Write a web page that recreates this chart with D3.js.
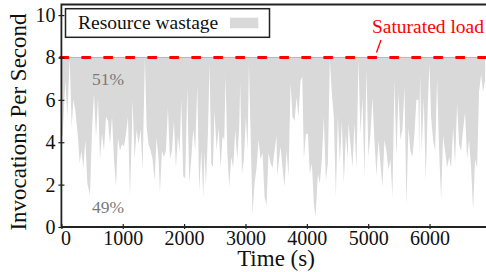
<!DOCTYPE html>
<html>
<head>
<meta charset="utf-8">
<script src="https://cdn.jsdelivr.net/npm/d3@7/dist/d3.min.js"></script>
<style>
  html, body { margin: 0; padding: 0; background: #fff; }
  svg { display: block; font-family: "Liberation Serif", "Times New Roman", serif; }
</style>
</head>
<body>
<svg id="chart" width="486" height="272"></svg>
<script>
// ---- data ----
const times = [
  0,21,64,97,135,168,195,227,271,298,325,358,390,423,466,499,531,564,597,629,662,694,727,760,792,825,857,890,922,955,988,1020,1053,1085,1118,1150,
  1160,1193,1226,1258,1291,1323,1361,1389,1421,1454,1486,1519,1551,1584,1606,1638,1671,1703,1736,1769,1801,1834,1866,1899,1926,1953,1986,2018,2051,2084,2116,2149,2181,2214,2246,2279,2312,
  2333,2355,2388,2415,2442,2469,2496,2529,2562,2594,2627,2654,2676,2703,2735,2768,2800,2833,2866,2898,2914,2942,2974,3007,3034,3056,3083,3115,3148,3181,3213,3246,3278,3311,3343,3376,3409,3441,3474,3506,
  3517,3539,3572,3604,3637,3669,3702,3735,3767,3800,3832,3865,3897,3925,3952,3984,4017,4049,4082,4115,4142,4180,4212,4245,4277,4310,4343,4375,4408,4440,4473,4506,4538,4571,4603,4636,4668,
  4678,4711,4744,4776,4809,4841,4874,4907,4939,4972,5004,5037,5069,5102,5135,5167,5200,5232,5265,5297,5330,5363,5395,5428,5460,5493,5525,5558,5591,5623,5656,5688,5721,5754,5786,5819,
  5830,5846,5873,5906,5938,5971,5998,6025,6058,6091,6123,6156,6188,6221,6253,6286,6319,6351,6384,6416,6449,6481,6514,6547,6579,6612,6644,6677,6710,6742,6775,6807,6840,6872,6905
];
const invocations = [
  4.3,4.3,6.9,5.2,8.0,4.7,6.0,5.5,4.2,3.0,3.6,2.8,4.1,2.05,1.5,4.6,6.3,4.2,6.1,3.2,4.4,3.6,5.2,5.0,3.9,5.2,3.2,1.9,4.2,3.6,3.9,3.8,4.4,5.2,1.4,4.7,
  6.0,3.2,4.6,3.9,4.6,2.7,8.0,4.7,3.9,3.6,3.2,2.2,4.2,3.2,1.6,3.6,3.3,3.6,5.6,3.2,3.6,5.0,2.8,4.3,3.5,6.0,2.4,2.3,6.6,2.05,3.2,4.6,3.6,6.7,1.7,3.6,1.4,
  3.6,1.9,4.4,7.7,3.0,2.8,5.5,3.6,4.7,2.8,4.3,4.1,7.1,3.6,1.9,3.3,2.8,4.6,3.2,4.7,6.8,2.5,3.2,5.2,3.6,7.7,4.4,0.6,2.05,2.8,4.1,3.2,3.5,1.4,1.0,3.5,3.0,2.8,3.6,4.3,
  2.4,3.0,3.8,2.8,1.9,3.6,2.4,6.8,5.2,5.0,6.1,5.2,6.9,7.1,3.2,4.4,4.4,2.5,3.0,1.1,0.5,2.5,2.05,3.2,5.2,2.2,3.0,7.9,6.3,5.2,1.4,5.2,3.0,5.0,2.05,4.4,3.2,
  4.9,3.9,2.8,4.9,2.7,7.9,4.4,6.1,2.4,7.4,3.3,4.4,6.1,4.1,2.4,4.1,3.0,1.9,4.1,3.6,2.7,3.2,1.4,6.9,3.3,6.3,4.1,4.6,6.6,1.0,4.7,3.6,3.3,4.4,6.0,6.0,
  3.3,7.2,3.6,6.1,2.2,5.7,7.7,5.2,4.1,3.6,7.0,3.6,1.3,4.3,3.6,2.8,3.3,2.8,4.7,3.0,5.8,3.9,3.6,4.6,5.4,3.2,4.1,2.8,0.8,3.2,2.8,6.4,7.2,6.4,6.9
];
const saturatedLoad = 8;
const xTicks = [0, 1000, 2000, 3000, 4000, 5000, 6000];
const yTicks = [0, 2, 4, 6, 8, 10];
const legendLabel = "Resource wastage";
const annotationLabel = "Saturated load";
const wastedShare = "51%";
const usedShare = "49%";
const xTitle = "Time (s)";
const yTitle = "Invocations Per Second";

// ---- layout ----
const svg = d3.select("#chart");
const pLeft = 61.4, pRight = 486, pTop = 4.5, pBottom = 227;
const x = d3.scaleLinear().domain([0, 6920]).range([pLeft, pRight]);
const y = d3.scaleLinear().domain([0, 10.5]).range([pBottom, pTop]);

const data = times.map((t, i) => ({ t, v: invocations[i] }));

svg.append("defs").append("clipPath").attr("id", "plotClip")
  .append("rect").attr("x", pLeft).attr("y", pTop).attr("width", pRight - pLeft).attr("height", pBottom - pTop);

const area = d3.area()
  .x(d => x(d.t))
  .y0(y(saturatedLoad))
  .y1(d => y(d.v));

svg.append("path")
  .datum(data)
  .attr("clip-path", "url(#plotClip)")
  .attr("d", area)
  .attr("fill", "#d9d9d9");

// saturated load line
svg.append("line")
  .attr("x1", pLeft).attr("x2", pRight)
  .attr("y1", y(saturatedLoad)).attr("y2", y(saturatedLoad))
  .attr("stroke", "#ff9a9a").attr("stroke-width", 1);
svg.append("line")
  .attr("x1", pLeft - 2).attr("x2", pRight)
  .attr("y1", y(saturatedLoad)).attr("y2", y(saturatedLoad))
  .attr("stroke", "#ff0000").attr("stroke-width", 3)
  .attr("stroke-dasharray", "9.5,12.5");

// percentage labels
svg.append("text").attr("x", 108).attr("y", 85).attr("text-anchor", "middle")
  .attr("font-size", 17.5).attr("fill", "#7a7a7a").text(wastedShare);
svg.append("text").attr("x", 108).attr("y", 213).attr("text-anchor", "middle")
  .attr("font-size", 17.5).attr("fill", "#7a7a7a").text(usedShare);

// axes
const yAxis = d3.axisLeft(y).tickValues(yTicks).tickSize(0).tickPadding(6).tickFormat(d3.format("d"));
const gy = svg.append("g").attr("transform", `translate(${pLeft},0)`).call(yAxis);
gy.select(".domain").remove();
gy.selectAll("text").attr("font-size", 20).attr("font-family", "Liberation Serif, serif").attr("fill", "#111").attr("x", -6);
gy.selectAll(".tick").append("line").attr("x1", -3).attr("x2", 3).attr("stroke", "#222").attr("stroke-width", 1.2);

const xAxis = d3.axisBottom(x).tickValues(xTicks).tickSize(0).tickPadding(6).tickFormat(d3.format("d"));
const gx = svg.append("g").attr("transform", `translate(0,${pBottom})`).call(xAxis);
gx.select(".domain").remove();
gx.selectAll("text").attr("font-size", 20).attr("font-family", "Liberation Serif, serif").attr("fill", "#111").attr("dy", "0.71em").attr("y", 4);
gx.selectAll(".tick").filter(d => d === 0).select("text").attr("x", 4);
gx.selectAll(".tick").append("line").attr("y1", -3).attr("y2", 2).attr("stroke", "#222").attr("stroke-width", 1.2);

// frame
svg.append("path")
  .attr("d", `M${pRight},${pTop}H${pLeft}V${pBottom}H${pRight}`)
  .attr("fill", "none").attr("stroke", "#222").attr("stroke-width", 1.8);

// axis titles
svg.append("text").attr("x", 276).attr("y", 266).attr("text-anchor", "middle")
  .attr("font-size", 23).attr("fill", "#111").text(xTitle);
svg.append("text").attr("transform", "translate(26,122) rotate(-90)").attr("text-anchor", "middle")
  .attr("font-size", 23).attr("fill", "#111").text(yTitle);

// legend
const lg = svg.append("g");
lg.append("rect").attr("x", 65.5).attr("y", 8.7).attr("width", 204).attr("height", 28.6)
  .attr("fill", "#fff").attr("stroke", "#222").attr("stroke-width", 1.5);
lg.append("text").attr("x", 78).attr("y", 29).attr("font-size", 19.5).attr("fill", "#111").text(legendLabel);
lg.append("rect").attr("x", 230).attr("y", 17.7).attr("width", 28.3).attr("height", 10.6).attr("fill", "#d9d9d9");

// annotation
svg.append("text").attr("x", 484).attr("y", 33).attr("text-anchor", "end")
  .attr("font-size", 19.5).attr("fill", "#ff0000").text(annotationLabel);
svg.append("line").attr("x1", 381).attr("y1", 40).attr("x2", 376.5).attr("y2", 52.5)
  .attr("stroke", "#ff0000").attr("stroke-width", 1.3);
</script>
</body>
</html>
